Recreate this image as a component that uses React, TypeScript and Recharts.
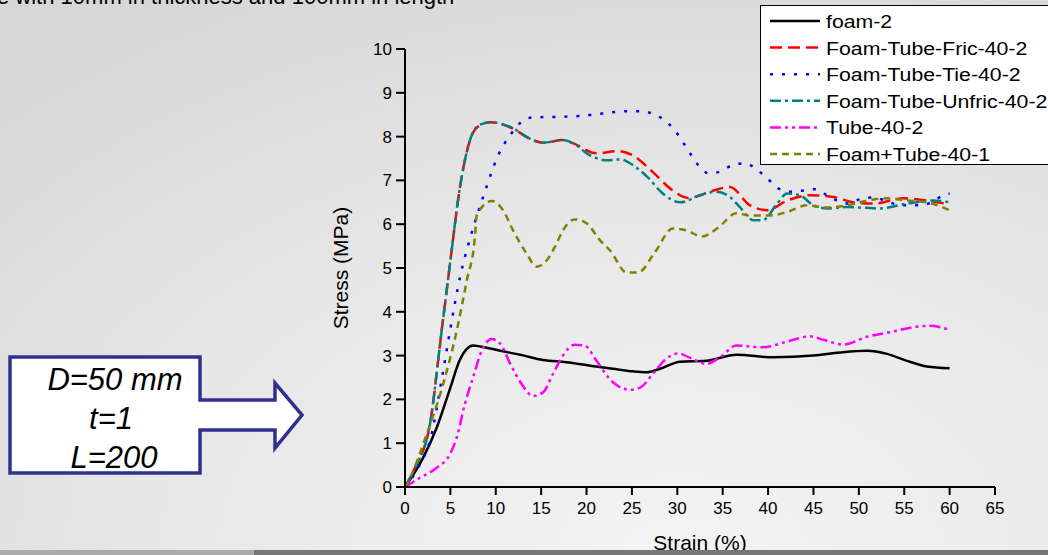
import React from 'react';
import { LineChart, Line, XAxis, YAxis } from 'recharts';

// Stress-strain curves, strain in %, stress in MPa
const foam2Strain = [0, 2, 3.5, 5, 6, 7.5, 8.3, 10.5, 12.7, 15.2, 17.8, 20.4, 22.9, 25.1, 26.6, 28.1, 30.3, 33.2, 36.5, 40.6, 45, 47.9, 50.9, 53.1, 55.3, 57.5, 60];
const foam2Stress = [0, 0.67, 1.36, 2.27, 2.88, 3.23, 3.21, 3.11, 3.02, 2.9, 2.85, 2.77, 2.7, 2.64, 2.62, 2.7, 2.86, 2.88, 3.02, 2.96, 3.0, 3.07, 3.11, 3.04, 2.88, 2.75, 2.71];

const fricStrain = [0, 1.1, 2.75, 4.04, 4.96, 6.06, 7.16, 8.2, 9.4, 11.5, 14.1, 15.2, 17.4, 18.5, 21.1, 23.4, 25.1, 27.3, 29.5, 31.2, 34, 35.8, 38, 39.9, 42.1, 44.6, 47.2, 49.4, 51.6, 54.9, 57.5, 60];
const fricStress = [0, 0.44, 1.44, 3.57, 5.1, 6.85, 7.92, 8.25, 8.33, 8.22, 7.92, 7.86, 7.92, 7.85, 7.62, 7.67, 7.57, 7.19, 6.77, 6.6, 6.77, 6.85, 6.43, 6.32, 6.54, 6.66, 6.62, 6.5, 6.47, 6.59, 6.54, 6.45];

const tieStrain = [0, 1.65, 2.75, 4.2, 4.96, 6.06, 7.16, 8.8, 10.2, 11.75, 12.85, 14.1, 16.7, 19.3, 21.8, 24.4, 25.9, 27.2, 28.4, 29.7, 30.6, 31.4, 32.3, 33.5, 34.7, 36.1, 37.5, 38.6, 39.9, 41.1, 42.6, 43.9, 45.2, 46.5, 47.7, 49, 50.3, 51.6, 52.9, 54.2, 55.4, 56.7, 58, 59.3, 60];
const tieStress = [0, 0.52, 1.05, 2.65, 3.57, 4.79, 5.67, 6.74, 7.54, 8.08, 8.34, 8.44, 8.45, 8.47, 8.53, 8.58, 8.58, 8.53, 8.4, 8.15, 7.88, 7.62, 7.35, 7.16, 7.2, 7.35, 7.39, 7.27, 7.05, 6.82, 6.74, 6.77, 6.8, 6.66, 6.53, 6.47, 6.59, 6.61, 6.54, 6.45, 6.43, 6.43, 6.5, 6.66, 6.7];

const unfricStrain = [0, 1.1, 2.75, 4.04, 4.96, 6.06, 7.16, 8.2, 9.4, 11.6, 14.1, 15.2, 17.4, 18.5, 20.4, 22.2, 23.7, 25.1, 26.7, 28.4, 30.3, 32.5, 34.3, 35.8, 36.9, 38.4, 39.4, 41, 42.1, 43.5, 45, 46.5, 48.7, 52.3, 55.3, 58.2, 60];
const unfricStress = [0, 0.44, 1.44, 3.57, 5.1, 6.85, 7.92, 8.27, 8.33, 8.22, 7.92, 7.86, 7.92, 7.85, 7.57, 7.46, 7.48, 7.35, 7.08, 6.7, 6.5, 6.66, 6.74, 6.62, 6.39, 6.09, 6.09, 6.47, 6.7, 6.66, 6.43, 6.36, 6.39, 6.36, 6.47, 6.54, 6.5];

const tubeStrain = [0, 1.65, 3.5, 4.96, 5.7, 6.6, 7.5, 8.45, 9.55, 10.5, 11.6, 12.85, 14.1, 15.2, 16.3, 17.4, 18.7, 19.8, 21.1, 22.9, 24.8, 25.9, 27.3, 28.8, 30.1, 31.5, 33.2, 34.7, 36.5, 39.4, 42.4, 44.6, 46.1, 48.3, 50.9, 53.8, 56, 57.8, 60];
const tubeStress = [0, 0.21, 0.44, 0.75, 1.13, 1.9, 2.5, 3.11, 3.38, 3.27, 2.81, 2.35, 2.08, 2.16, 2.58, 3.0, 3.25, 3.23, 2.88, 2.39, 2.22, 2.27, 2.58, 2.93, 3.05, 2.94, 2.81, 2.96, 3.23, 3.19, 3.34, 3.44, 3.36, 3.25, 3.43, 3.55, 3.65, 3.68, 3.59];

const foamTubeStrain = [0, 0.55, 2.4, 4.2, 5.7, 6.8, 7.7, 7.9, 9.55, 10.8, 11.9, 13.4, 14.5, 15.6, 16.7, 17.4, 18.7, 20, 21.5, 22.6, 24.4, 25.7, 27.5, 29.5, 31, 32.7, 34.5, 36.5, 38, 40.2, 42.1, 44.3, 46.5, 48.7, 50.9, 53.1, 55.3, 57.5, 60];
const foamTubeStress = [0, 0.21, 1.21, 2.35, 3.57, 4.71, 5.7, 6.2, 6.53, 6.32, 5.86, 5.33, 5.03, 5.17, 5.56, 5.86, 6.11, 6.02, 5.63, 5.4, 4.9, 4.9, 5.35, 5.9, 5.86, 5.72, 5.92, 6.25, 6.2, 6.2, 6.28, 6.43, 6.38, 6.43, 6.54, 6.59, 6.54, 6.5, 6.32];

const xTicks = [0, 5, 10, 15, 20, 25, 30, 35, 40, 45, 50, 55, 60, 65];
const xMinorTicks = [2.5, 7.5, 12.5, 17.5, 22.5, 27.5, 32.5, 37.5, 42.5, 47.5, 52.5, 57.5, 62.5];
const yTicks = [0, 1, 2, 3, 4, 5, 6, 7, 8, 9, 10];
const yMinorTicks = [0.5, 1.5, 2.5, 3.5, 4.5, 5.5, 6.5, 7.5, 8.5, 9.5];

const toPoints = (xs: number[], ys: number[]) => xs.map((x, i) => ({ strain: x, stress: ys[i] }));

const series = [
  { name: 'foam-2', color: '#000000', dash: undefined, points: toPoints(foam2Strain, foam2Stress) },
  { name: 'Foam-Tube-Fric-40-2', color: '#ff0000', dash: '12 6', points: toPoints(fricStrain, fricStress) },
  { name: 'Foam-Tube-Tie-40-2', color: '#0000ff', dash: '3 9', points: toPoints(tieStrain, tieStress) },
  { name: 'Foam-Tube-Unfric-40-2', color: '#008080', dash: '11 4 3 4', points: toPoints(unfricStrain, unfricStress) },
  { name: 'Tube-40-2', color: '#ff00ff', dash: '11 4 3 4 3 4', points: toPoints(tubeStrain, tubeStress) },
  { name: 'Foam+Tube-40-1', color: '#808000', dash: '7 5', points: toPoints(foamTubeStrain, foamTubeStress) },
];

const noLabel = () => <g />;

const ChartLegend = () => (
  <div
    style={{
      position: 'absolute',
      left: 760,
      top: 5,
      width: 300,
      height: 160,
      background: '#fff',
      border: '1.5px solid #000',
      boxSizing: 'border-box',
    }}
  >
    <svg width={300} height={160} style={{ position: 'absolute', left: -1, top: -5 }}>
      {series.map((s, i) => {
        const y = 20 + i * 26.6;
        return (
          <g key={s.name}>
            <line x1={10} x2={60} y1={y} y2={y} stroke={s.color} strokeWidth={2.5} strokeDasharray={s.dash} />
            <g transform={`translate(66, ${y + 7}) scale(1.15, 1)`}>
              <text x={0} y={0} fontSize={18.5} fill="#000">
                {s.name}
              </text>
            </g>
          </g>
        );
      })}
    </svg>
  </div>
);

const Callout = () => (
  <svg width={1048} height={555} style={{ position: 'absolute', left: 0, top: 0, pointerEvents: 'none' }}>
    <text x={-3} y={4} fontSize={22} fill="#000">
      e with 10mm in thickness and 100mm in length
    </text>
    <polygon
      points="10,357 200,357 200,400 275,400 275,383 302,415 275,448 275,430 200,430 200,473 10,473"
      fill="#fff"
      stroke="#2e3192"
      strokeWidth={3.5}
      strokeLinejoin="miter"
    />
    <g fontSize={31} fontStyle="italic" fill="#000" textAnchor="middle">
      <text x={115} y={390}>D=50 mm</text>
      <text x={111} y={429}>t=1</text>
      <text x={114} y={468}>L=200</text>
    </g>
    <rect x={0} y={550} width={254} height={5} fill="#ababab" />
    <rect x={254} y={550} width={794} height={5} fill="#777777" />
  </svg>
);

export default function App() {
  return (
    <div
      style={{
        position: 'absolute',
        left: 0,
        top: 0,
        width: 1048,
        height: 555,
        overflow: 'hidden',
        fontFamily: '"Liberation Sans", Arial, sans-serif',
        background: 'radial-gradient(ellipse 95% 115% at 65% 100%, #f4f4f4 0%, #e8e8e8 50%, #d7d7d7 100%)',
      }}
    >
      <div style={{ position: 'absolute', left: 0, top: 0 }}>
        <LineChart width={1048} height={555} margin={{ top: 49, right: 53, bottom: 8, left: 325 }}>
          <XAxis
            xAxisId="minor"
            type="number"
            dataKey="strain"
            domain={[0, 65]}
            ticks={xMinorTicks}
            height={0}
            axisLine={false}
            tickSize={4}
            tick={noLabel}
            tickLine={{ stroke: '#000', strokeWidth: 2 }}
          />
          <XAxis
            type="number"
            dataKey="strain"
            domain={[0, 65]}
            ticks={xTicks}
            interval={0}
            height={60}
            stroke="#000"
            axisLine={{ stroke: '#000', strokeWidth: 2 }}
            tickLine={{ stroke: '#000', strokeWidth: 2 }}
            tickSize={8}
            tickMargin={7}
            tick={{ fill: '#000', fontSize: 17 }}
            label={{ value: 'Strain (%)', position: 'insideBottom', offset: -3, fill: '#000', fontSize: 21 }}
          />
          <YAxis
            yAxisId="minor"
            type="number"
            domain={[0, 10]}
            ticks={yMinorTicks}
            width={0}
            axisLine={false}
            tickSize={5}
            tick={noLabel}
            tickLine={{ stroke: '#000', strokeWidth: 2 }}
          />
          <YAxis
            type="number"
            domain={[0, 10]}
            ticks={yTicks}
            interval={0}
            width={80}
            stroke="#000"
            axisLine={{ stroke: '#000', strokeWidth: 2 }}
            tickLine={{ stroke: '#000', strokeWidth: 2 }}
            tickSize={9}
            tickMargin={4}
            tick={{ fill: '#000', fontSize: 17 }}
            label={{
              value: 'Stress (MPa)',
              angle: -90,
              position: 'insideLeft',
              offset: 16,
              fill: '#000',
              fontSize: 21,
              style: { textAnchor: 'middle' },
            }}
          />
          {series.map((s) => (
            <Line
              key={s.name}
              data={s.points}
              dataKey="stress"
              name={s.name}
              type="monotone"
              stroke={s.color}
              strokeWidth={2.5}
              strokeDasharray={s.dash}
              dot={false}
              activeDot={false}
              isAnimationActive={false}
            />
          ))}
        </LineChart>
      </div>
      <ChartLegend />
      <Callout />
    </div>
  );
}
